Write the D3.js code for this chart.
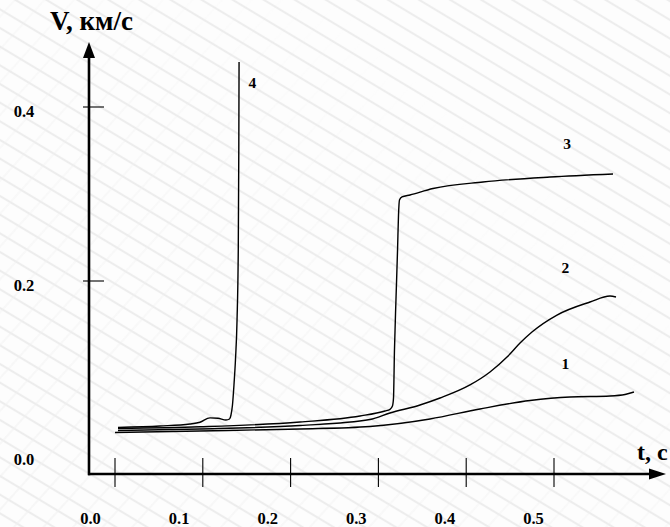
<!DOCTYPE html>
<html>
<head>
<meta charset="utf-8">
<script src="https://cdn.jsdelivr.net/npm/d3@7"></script>
<style>
  html, body { margin: 0; padding: 0; background: #ffffff; }
  svg { display: block; }
  text { font-family: "Liberation Serif", "Times New Roman", serif; font-weight: bold; fill: #000; }
</style>
</head>
<body>
<svg id="chart" width="670" height="527"></svg>
<script>
// ---- data (t in s, V in km/s) ----
const yTicks = [0.0, 0.2, 0.4];
const yTickLabels = ["0.0", "0.2", "0.4"];
const xTicks = [0.0, 0.1, 0.2, 0.3, 0.4, 0.5];
const xTickLabels = ["0.0", "0.1", "0.2", "0.3", "0.4", "0.5"];

const t1 = [0, 0.0968, 0.2107, 0.2904, 0.3588, 0.4157, 0.4727, 0.5182, 0.5638, 0.5809, 0.5911];
const v1 = [0.0259, 0.0276, 0.0299, 0.0328, 0.0414, 0.0529, 0.0626, 0.0667, 0.0678, 0.0695, 0.0724];

const t2 = [0.0034, 0.0968, 0.2107, 0.2904, 0.3132, 0.3474, 0.3702, 0.4043, 0.4271, 0.4465, 0.4613, 0.4749, 0.5034, 0.541, 0.5638, 0.5706];
const v2 = [0.0282, 0.0299, 0.0339, 0.0408, 0.0483, 0.0575, 0.0655, 0.0805, 0.0954, 0.1126, 0.1287, 0.1414, 0.1609, 0.1759, 0.1828, 0.1816];

const t3 = [0.0034, 0.0968, 0.2107, 0.279, 0.3075, 0.3132, 0.316, 0.3172, 0.3183, 0.32, 0.3218, 0.3229, 0.324, 0.3269, 0.336, 0.3622, 0.4191, 0.4954, 0.5672];
const v3 = [0.0305, 0.0325, 0.0379, 0.0448, 0.0506, 0.0525, 0.0563, 0.0655, 0.1207, 0.1782, 0.2356, 0.2759, 0.2931, 0.2966, 0.2989, 0.3063, 0.3138, 0.3195, 0.323];

const t4 = [0.0034, 0.0513, 0.0854, 0.0968, 0.1082, 0.1173, 0.1264, 0.1304, 0.1321, 0.1338, 0.1355, 0.1372, 0.139, 0.1404, 0.141, 0.1413];
const v4 = [0.0316, 0.0333, 0.0356, 0.0376, 0.0427, 0.0422, 0.0402, 0.0414, 0.046, 0.0575, 0.0805, 0.1092, 0.1552, 0.2356, 0.3506, 0.4517];

const curveNames = ["1", "2", "3", "4"];
// label anchor points (data coords)
const labelT = [0.513, 0.513, 0.515, 0.1565];
const labelV = [0.105, 0.216, 0.358, 0.428];

const yTitle = "V, км/с";
const xTitle = "t, c";

// ---- build ----
const svg = d3.select("#chart");
const W = 670, H = 527;

// background pattern
const defs = svg.append("defs");
const p1 = defs.append("pattern").attr("id", "stripes1")
  .attr("patternUnits", "userSpaceOnUse").attr("width", 16).attr("height", 16)
  .attr("patternTransform", "rotate(31)");
p1.append("line").attr("x1", 0).attr("y1", 8).attr("x2", 16).attr("y2", 8)
  .attr("stroke", "#ededed").attr("stroke-width", 2.2);
const p2 = defs.append("pattern").attr("id", "stripes2")
  .attr("patternUnits", "userSpaceOnUse").attr("width", 22).attr("height", 22)
  .attr("patternTransform", "rotate(-48)");
p2.append("line").attr("x1", 0).attr("y1", 11).attr("x2", 22).attr("y2", 11)
  .attr("stroke", "#f1f1f1").attr("stroke-width", 1.1);
const grad = defs.append("linearGradient").attr("id", "fadeGrad")
  .attr("x1", "0").attr("y1", "1").attr("x2", "1").attr("y2", "0");
grad.append("stop").attr("offset", "0").attr("stop-color", "#fff").attr("stop-opacity", 1);
grad.append("stop").attr("offset", "0.5").attr("stop-color", "#fff").attr("stop-opacity", 0.5);
grad.append("stop").attr("offset", "0.75").attr("stop-color", "#fff").attr("stop-opacity", 0);
const mask = defs.append("mask").attr("id", "fadeMask");
mask.append("rect").attr("width", W).attr("height", H).attr("fill", "url(#fadeGrad)");

svg.append("rect").attr("width", W).attr("height", H).attr("fill", "#fdfdfd");
svg.append("rect").attr("width", W).attr("height", H).attr("fill", "url(#stripes1)");
svg.append("rect").attr("width", W).attr("height", H).attr("fill", "url(#stripes2)").attr("mask", "url(#fadeMask)");

// scales
const x = d3.scaleLinear().domain([0, 0.5]).range([115, 554]);
const y = d3.scaleLinear().domain([0, 0.4]).range([455, 107]);
const xLabelPos = d3.scaleLinear().domain([0, 0.5]).range([90.5, 533.5]);

const axisX0 = 88, axisY0 = 474;

// axes lines
svg.append("line").attr("x1", 89).attr("y1", axisY0 + 1.2).attr("x2", 89).attr("y2", 55)
  .attr("stroke", "#000").attr("stroke-width", 2.6);
svg.append("path").attr("d", "M89,42 L83,58 L95,58 Z").attr("fill", "#000");
svg.append("line").attr("x1", axisX0).attr("y1", axisY0).attr("x2", 652).attr("y2", axisY0)
  .attr("stroke", "#000").attr("stroke-width", 2.6);
svg.append("path").attr("d", `M666,${axisY0} L649,${axisY0 - 5.5} L649,${axisY0 + 5.5} Z`).attr("fill", "#000");

// x ticks
svg.append("g").selectAll("line").data(xTicks).join("line")
  .attr("x1", d => x(d)).attr("x2", d => x(d))
  .attr("y1", 458).attr("y2", 487)
  .attr("stroke", "#000").attr("stroke-width", 1.1);
svg.append("g").selectAll("text").data(xTicks).join("text")
  .attr("x", d => xLabelPos(d)).attr("y", 523.5)
  .attr("text-anchor", "middle").attr("font-size", 16.5)
  .text((d, i) => xTickLabels[i]);

// y ticks (0.0 has no tick mark)
svg.append("g").selectAll("line").data(yTicks.filter(d => d > 0)).join("line")
  .attr("x1", 83).attr("x2", 104)
  .attr("y1", d => y(d)).attr("y2", d => y(d))
  .attr("stroke", "#000").attr("stroke-width", 1.1);
svg.append("g").selectAll("text").data(yTicks).join("text")
  .attr("x", 24).attr("y", d => y(d) + 4 + 5.5)
  .attr("text-anchor", "middle").attr("font-size", 16.5)
  .text((d, i) => yTickLabels[i]);

// titles
svg.append("text").attr("x", 50).attr("y", 30).attr("font-size", 27).text(yTitle);
svg.append("text").attr("x", 637).attr("y", 460).attr("font-size", 24).text(xTitle);

// curves
const series = [[t1, v1], [t2, v2], [t3, v3], [t4, v4]];
const line = d3.line().x(d => x(d[0])).y(d => y(d[1])).curve(d3.curveMonotoneX);
svg.append("g").selectAll("path").data(series).join("path")
  .attr("d", s => line(s[0].map((t, i) => [t, s[1][i]])))
  .attr("fill", "none").attr("stroke", "#000").attr("stroke-width", 1.4);

// curve labels
svg.append("g").selectAll("text").data(curveNames).join("text")
  .attr("x", (d, i) => x(labelT[i])).attr("y", (d, i) => y(labelV[i]))
  .attr("text-anchor", "middle").attr("dominant-baseline", "central")
  .attr("font-size", 15.5)
  .text(d => d);
</script>
</body>
</html>
